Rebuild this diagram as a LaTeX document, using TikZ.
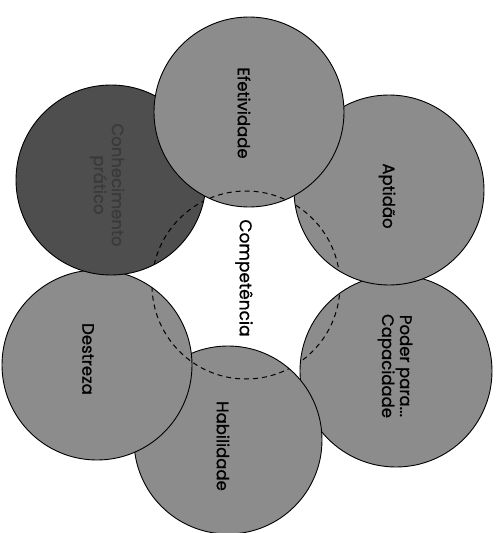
\documentclass[tikz,border=0pt]{standalone}
\usepackage{fontspec}
\setmainfont{Poppins}
\newfontfamily\lblfont{Poppins}[FakeBold=0.9]
\begin{document}
\begin{tikzpicture}[x=1pt,y=-1pt,
  bubble/.style={fill=ltgray,draw=black,line width=0.9pt},
  darkbubble/.style={fill=dkgray,draw=black,line width=0.9pt},
  lbl/.style={rotate=-90,font=\lblfont\fontsize{16.5}{18}\selectfont,text=black,align=center},
  dlbl/.style={rotate=-90,font=\lblfont\fontsize{16.5}{18}\selectfont,text=dktext,align=center}]
\definecolor{ltgray}{HTML}{8C8C8C}
\definecolor{dkgray}{HTML}{4E4E4E}
\definecolor{dktext}{HTML}{3A3A3A}
\useasboundingbox (0,0) rectangle (498,533);
\fill[white] (0,0) rectangle (498,533);
% circles
\draw[bubble] (396,371) circle[radius=96pt];
\draw[bubble] (228,440) circle[radius=94pt];
\draw[bubble] (97,365) circle[radius=95pt];
\draw[darkbubble] (111,180) circle[radius=95pt];
\draw[bubble] (389,190) circle[radius=95pt];
\draw[bubble] (249,112) circle[radius=95pt];
% dashed inner circle, visible only over the circles
\begin{scope}
\clip (396,371) circle[radius=96pt] (228,440) circle[radius=94pt]
      (97,365) circle[radius=95pt] (111,180) circle[radius=95pt]
      (389,190) circle[radius=95pt] (249,112) circle[radius=95pt];
\draw[line width=1pt,dash pattern=on 5pt off 4pt] (246,285) circle[radius=94pt];
\end{scope}
% labels
\node[lbl] (efe) at (244,113) {Efetividade};
\node[lbl] (apt) at (387,196) {Aptidão};
\node[lbl] (pod) at (395,366) {Poder para...\\Capacidade};
\node[lbl] (hab) at (223,446) {Habilidade};
\node[lbl] (des) at (88,359) {Destreza};
\node[dlbl] (con) at (107,185) {Conhecimento\\prático};
\node[rotate=-90,font=\lblfont\fontsize{17}{19}\selectfont] (comp) at (244,278) {Competência};
\end{tikzpicture}
\end{document}
